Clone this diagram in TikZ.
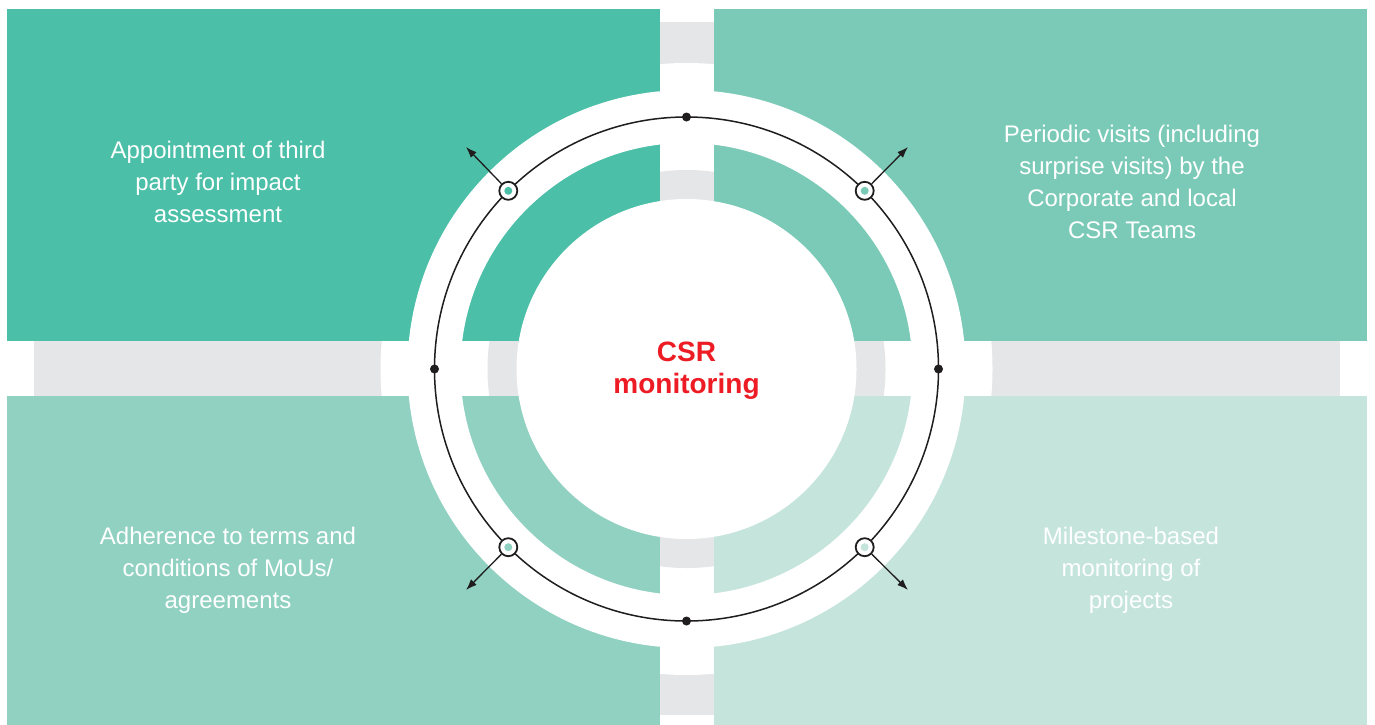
\documentclass[tikz,border=0pt]{standalone}
\usepackage{fontspec}
\setmainfont{Liberation Sans}
\usetikzlibrary{arrows.meta}
\definecolor{Ink}{HTML}{1F1D1E}
\definecolor{TealDeep}{HTML}{4BBFA7}
\definecolor{TealMid}{HTML}{7ACAB7}
\definecolor{TealSoft}{HTML}{90D1C1}
\definecolor{TealPale}{HTML}{C5E5DC}
\definecolor{Track}{HTML}{E5E6E8}
\definecolor{Accent}{HTML}{ED1C24}
\tikzset{
  quad panel/.style={rectangle, inner sep=0pt, minimum width=653pt, minimum height=332pt, anchor=north west},
  quad text/.style={font=\fontsize{24}{32}\selectfont, text=white, align=center},
  hub title/.style={font=\bfseries\fontsize{28}{32}\selectfont, text=Accent, align=center},
  joint/.style={circle, fill=Ink, inner sep=0pt, minimum size=9pt},
  probe/.style={circle, draw=Ink, line width=1.8pt, fill=white, inner sep=0pt, minimum size=18pt},
  probe core/.style={circle, inner sep=0pt, minimum size=8pt},
  out flow/.style={-{Latex[length=11pt,width=8pt]}, draw=Ink, line width=1.3pt},
}

\begin{document}
\begin{tikzpicture}[x=1pt, y=-1pt]
  \useasboundingbox (0,0) rectangle (1375,724);
  \coordinate (core) at (686.5,369);

  % Grey cross and rings sit behind the quadrant panels.
  \fill[Track] (34,341) rectangle (1340,396);
  \fill[Track] (660,22) rectangle (714,715);
  \fill[white] (core) circle[radius=306pt];
  \fill[Track] (core) circle[radius=199pt];

  % Four quadrant panels, lightest at the bottom right.
  \node[quad panel, fill=TealDeep] (qTL) at (7,9) {};
  \node[quad panel, fill=TealMid] (qTR) at (714,9) {};
  \node[quad panel, fill=TealSoft] (qBL) at (7,396) {};
  \node[quad panel, fill=TealPale] (qBR) at (714,396) {};

  % Cut-outs: white ring for the track, white disc for the hub.
  \fill[white, even odd rule] (core) circle[radius=279pt] circle[radius=226pt];
  \fill[white] (core) circle[radius=170pt];

  % Monitoring loop with its quarter joints.
  \draw[Ink, line width=1.5pt] (core) circle[radius=252pt];
  \node[joint] (jN) at (686.5,117) {};
  \node[joint] (jE) at (938.5,369) {};
  \node[joint] (jS) at (686.5,621) {};
  \node[joint] (jW) at (434.5,369) {};

  % Probes on the diagonals, each pointing out to its quadrant.
  \node[probe] (pTL) at (508.3,190.8) {};
  \node[probe] (pTR) at (864.7,190.8) {};
  \node[probe] (pBL) at (508.3,547.2) {};
  \node[probe] (pBR) at (864.7,547.2) {};
  \node[probe core, fill=TealDeep] (cTL) at (pTL) {};
  \node[probe core, fill=TealMid] (cTR) at (pTR) {};
  \node[probe core, fill=TealSoft] (cBL) at (pBL) {};
  \node[probe core, fill=TealPale] (cBR) at (pBR) {};

  \coordinate (tipTL) at (466,147);
  \coordinate (tipTR) at (908,147);
  \coordinate (tipBL) at (466,590);
  \coordinate (tipBR) at (908,590);
  \draw[out flow] (pTL) -- (tipTL);
  \draw[out flow] (pTR) -- (tipTR);
  \draw[out flow] (pBL) -- (tipBL);
  \draw[out flow] (pBR) -- (tipBR);

  % Labels.
  \node[hub title] (hub) at (686.5,371) {CSR\\monitoring};
  \node[quad text] (tTL) at (218,182) {Appointment of third\\party for impact\\assessment};
  \node[quad text] (tTR) at (1132,182) {Periodic visits (including\\surprise visits) by the\\Corporate and local\\CSR Teams};
  \node[quad text] (tBL) at (228,570) {Adherence to terms and\\conditions of MoUs/\\agreements};
  \node[quad text] (tBR) at (1131,570) {Milestone-based\\monitoring of\\projects};
\end{tikzpicture}
\end{document}
